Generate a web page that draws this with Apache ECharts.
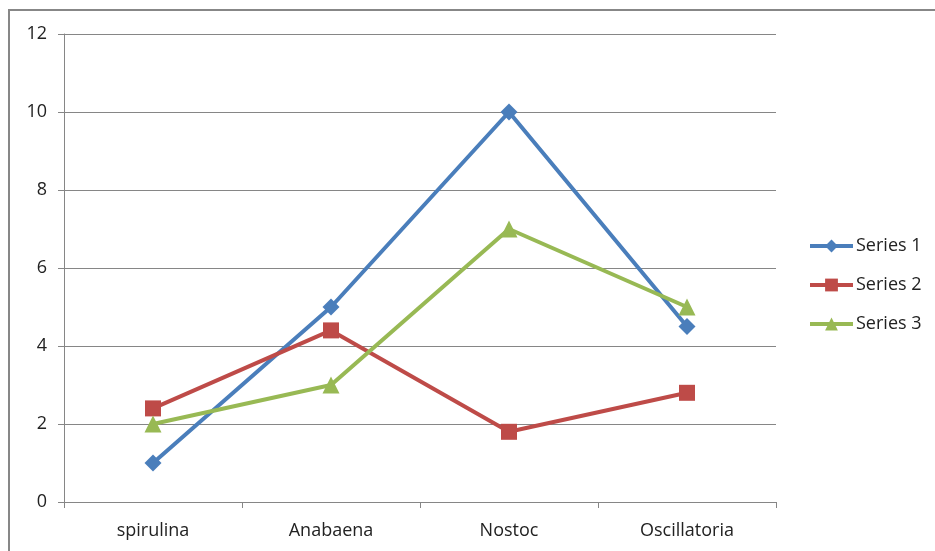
<!DOCTYPE html>
<html>
<head>
<meta charset="utf-8">
<script src="https://cdn.jsdelivr.net/npm/echarts@6/dist/echarts.min.js"></script>
<style>html,body{margin:0;padding:0;background:#fff}#c{width:935px;height:551px}</style>
</head>
<body>
<div id="c"></div>
<script>
var categories = ['spirulina', 'Anabaena', 'Nostoc', 'Oscillatoria'];
var series1 = [1, 5, 10, 4.5];
var series2 = [2.4, 4.4, 1.8, 2.8];
var series3 = [2, 3, 7, 5];
var seriesNames = ['Series 1', 'Series 2', 'Series 3'];
var yTicks = [0, 2, 4, 6, 8, 10, 12];

var chart = echarts.init(document.getElementById('c'), null, {renderer: 'canvas'});
var font = '"Open Sans", "Noto Sans", sans-serif';
function mk(name, data, color, symbol, size) {
  return {
    name: name, type: 'line', data: data, symbol: symbol, symbolSize: size,
    lineStyle: {color: color, width: 4},
    itemStyle: {color: color},
    emphasis: {disabled: true},
    animation: false
  };
}
chart.setOption({
  animation: false,
  textStyle: {fontFamily: font},
  graphic: [{
    type: 'rect', shape: {x: 9, y: 10, width: 940, height: 560},
    style: {fill: 'none', stroke: '#878787', lineWidth: 2}, silent: true
  }],
  grid: {left: 64, right: 159, top: 34, bottom: 49},
  legend: {
    orient: 'vertical', left: 803, top: 232, itemGap: 21,
    itemWidth: 43, itemHeight: 16,
    lineStyle: {width: 4},
    textStyle: {fontSize: 18, color: '#222', fontFamily: font, padding: [0, 0, 0, -2]},
    data: seriesNames
  },
  xAxis: {
    type: 'category', data: categories, boundaryGap: true,
    axisLine: {lineStyle: {color: '#868686', width: 1}},
    axisTick: {show: true, length: 6, lineStyle: {color: '#868686'}},
    axisLabel: {fontSize: 18, color: '#222', margin: 20, fontFamily: font},
    splitLine: {show: false}
  },
  yAxis: {
    type: 'value', min: yTicks[0], max: yTicks[yTicks.length - 1], interval: 2,
    axisLine: {show: true, lineStyle: {color: '#868686', width: 1}},
    axisTick: {show: true, length: 6, lineStyle: {color: '#868686'}},
    axisLabel: {fontSize: 18, color: '#222', margin: 17, fontFamily: font},
    splitLine: {show: true, lineStyle: {color: '#868686', width: 1}}
  },
  series: [
    mk(seriesNames[0], series1, '#4A7EBB', 'diamond', 17),
    mk(seriesNames[1], series2, '#BE4B48', 'rect', 16),
    mk(seriesNames[2], series3, '#98B954', 'triangle', 17)
  ]
});
</script>
</body>
</html>
